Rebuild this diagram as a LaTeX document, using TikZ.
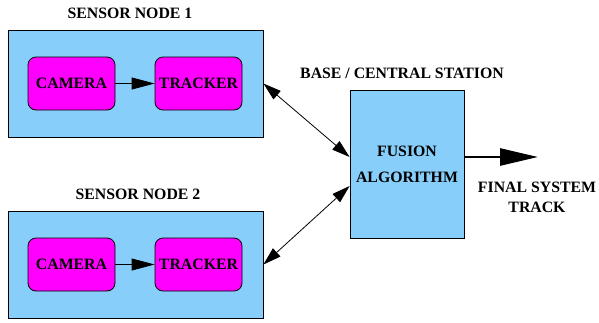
\documentclass[tikz,border=0pt]{standalone}
\usepackage{fontspec}
\setmainfont{Liberation Serif}
\usetikzlibrary{positioning,arrows.meta}

\definecolor{nodeblue}{RGB}{135,206,250}
\definecolor{unitpink}{RGB}{255,0,255}

\tikzset{
  sensorbox/.style={draw,fill=nodeblue,minimum width=255pt,minimum height=107pt},
  unitbox/.style={draw,fill=unitpink,rounded corners=8pt,minimum width=87pt,minimum height=53pt},
  fusionbox/.style={draw,fill=nodeblue,minimum width=114pt,minimum height=148pt,align=center},
  title/.style={font=\fontsize{15.8}{17}\selectfont\bfseries}
}

\begin{document}
\begin{tikzpicture}[x=1pt,y=-1pt,line width=0.8pt,font=\fontsize{15.8}{17}\selectfont\bfseries]
\useasboundingbox (0,0) rectangle (599,322);
% sensor nodes
\node[sensorbox] (sensor1) at (135.5,83.5) {};
\node[sensorbox] (sensor2) at (135.5,264.5) {};
\node[title] (label1) at (130,13) {SENSOR NODE 1};
\node[title] (label2) at (138,194) {SENSOR NODE 2};
\node[unitbox] (camera1) at (71.5,83.5) {CAMERA};
\node[unitbox] (tracker1) at (198.5,83.5) {TRACKER};
\node[unitbox] (camera2) at (71.5,264.5) {CAMERA};
\node[unitbox] (tracker2) at (198.5,264.5) {TRACKER};
\draw[-{Triangle[length=23pt,width=12pt]}] (camera1) -- (tracker1);
\draw[-{Triangle[length=23pt,width=12pt]}] (camera2) -- (tracker2);
% base station
\node[title] (baselabel) at (402,73) {BASE / CENTRAL STATION};
\node[fusionbox,font=\fontsize{15.8}{26}\selectfont\bfseries] (fusion) at (407,164)
     {FUSION\\ALGORITHM};
\draw[{Triangle[length=18pt,width=11pt]}-{Triangle[length=18pt,width=11pt]}]
     (sensor1.east) -- ([yshift=7pt]fusion.west);
\draw[{Triangle[length=18pt,width=11pt]}-{Triangle[length=18pt,width=11pt]}]
     (sensor2.east) -- ([yshift=-22pt]fusion.west);
% output track
\coordinate (out) at (538,157);
\draw[line width=2.7pt,-{Triangle[length=38pt,width=17pt]}] ([yshift=7pt]fusion.east) -- (out);
\node[title,align=center,font=\fontsize{15.8}{20}\selectfont\bfseries] (track) at (537,197)
     {FINAL SYSTEM\\TRACK};
\end{tikzpicture}
\end{document}
